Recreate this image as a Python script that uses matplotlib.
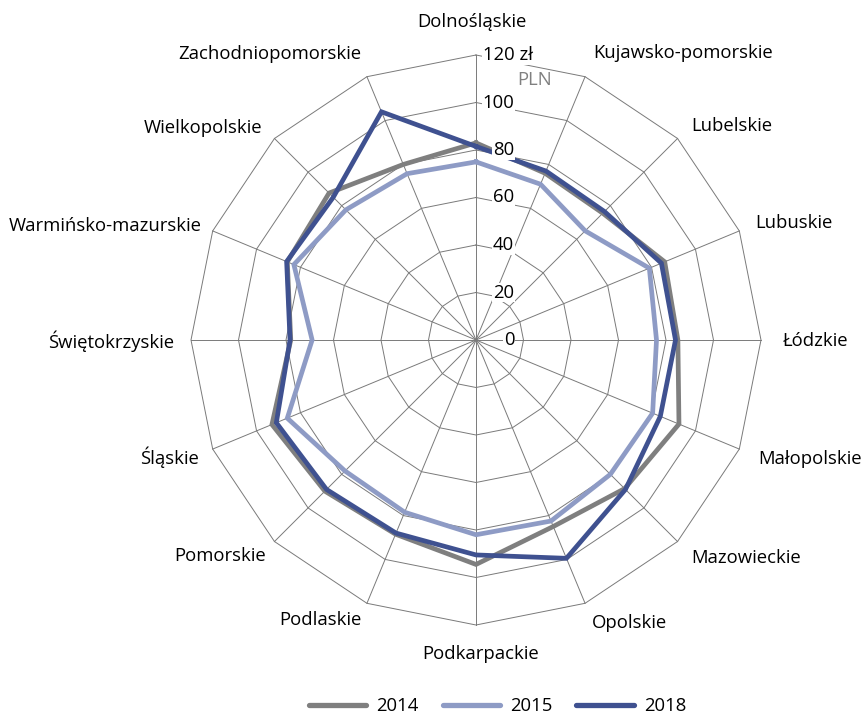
import numpy as np
import matplotlib
matplotlib.use('Agg')
import matplotlib.pyplot as plt

plt.rcParams['font.family'] = ['Open Sans', 'DejaVu Sans']

regions = ['Dolnośląskie', 'Kujawsko-pomorskie', 'Lubelskie', 'Lubuskie', 'Łódzkie',
           'Małopolskie', 'Mazowieckie', 'Opolskie', 'Podkarpackie', 'Podlaskie',
           'Pomorskie', 'Śląskie', 'Świętokrzyskie', 'Warmińsko-mazurskie',
           'Wielkopolskie', 'Zachodniopomorskie']
v2014 = [83, 76, 75.5, 86, 85, 92.5, 88.5, 85, 94.5, 88.5, 90, 93, 78, 86, 87.5, 80]
v2015 = [75, 71, 65, 79, 76, 80.5, 80, 82.5, 82, 78.5, 78, 86, 69, 83, 77.5, 75.8]
v2018 = [81.5, 77, 76.5, 84.5, 84, 84, 89, 99.5, 90.5, 88, 89, 91, 78.3, 86.3, 85, 104]
years = ['2014', '2015', '2018']
ticks = [0, 20, 40, 60, 80, 100, 120]
tick_labels = ['0', '20', '40', '60', '80', '100', '120 zł']

colors = ['#7f7f7f', '#8e9bc5', '#3f5190']
# label centres (angle in degrees clockwise from top, radius in data units)
label_pos = [(359.3, 134), (35.8, 149), (50.1, 140.5), (69.8, 142.7), (90.2, 143.2),
             (109.6, 149.3), (128.9, 146.1), (151.6, 135.5), (179.1, 132.2), (209.0, 134.8),
             (229.8, 141.0), (249.1, 138.3), (269.8, 153.7), (287.1, 163.4), (307.8, 145.5),
             (324.2, 148.4)]

W, H = 864, 715
cx, cy, R = 476, 340, 285
fs = 13.3
fig = plt.figure(figsize=(W / 100, H / 100), dpi=100)
ax = fig.add_axes([(cx - R) / W, (H - cy - R) / H, 2 * R / W, 2 * R / H], projection='polar')
ax.set_theta_offset(np.pi / 2)
ax.set_theta_direction(-1)
ax.set_ylim(0, 120)
ax.grid(False)
ax.spines['polar'].set_visible(False)
ax.set_xticks([])
ax.set_yticks([])
ax.patch.set_alpha(0)

n = len(regions)
theta = np.arange(n) * 2 * np.pi / n
theta_c = np.append(theta, theta[0])

grid_kw = dict(color='#7a7a7a', lw=0.7, zorder=1, clip_on=False)
for t in ticks[1:]:
    ax.plot(theta_c, [t] * (n + 1), **grid_kw)
for th in theta:
    ax.plot([th, th], [0, 120], **grid_kw)

for vals, col, yr in zip([v2014, v2015, v2018], colors, years):
    ax.plot(theta_c, vals + vals[:1], color=col, lw=3.4, label=yr, zorder=3,
            solid_joinstyle='miter', clip_on=False)

for t, lbl in zip(ticks, tick_labels):
    if lbl.endswith('zł'):
        ax.annotate(lbl, xy=(0, t), xytext=(5, 0), textcoords='offset points',
                    ha='left', va='center', fontsize=fs, zorder=4,
                    bbox=dict(fc='white', ec='none', pad=0.5))
    else:
        ax.annotate(lbl, xy=(0, t), xytext=(27.6, 0), textcoords='offset points',
                    ha='right', va='center', fontsize=fs, zorder=4,
                    bbox=dict(fc='white', ec='none', pad=0.5))
ax.annotate('PLN', xy=(0, 120), xytext=(42.5, -18), textcoords='offset points',
            ha='center', va='center', fontsize=fs, color='#808080', zorder=4)

for lbl, (ang, r) in zip(regions, label_pos):
    ax.text(np.deg2rad(ang), r, lbl, ha='center', va='center', fontsize=fs, color='black')

leg = fig.legend(loc='center', bbox_to_anchor=(497.5 / W, 1 - 706 / H), ncol=3, frameon=False,
                 fontsize=fs, handlelength=3.1, handletextpad=0.55, columnspacing=1.3,
                 borderpad=0.2)
for h in leg.legend_handles:
    h.set_linewidth(3.8)
    h.set_solid_capstyle('round')

fig.savefig('out.png', dpi=100)
